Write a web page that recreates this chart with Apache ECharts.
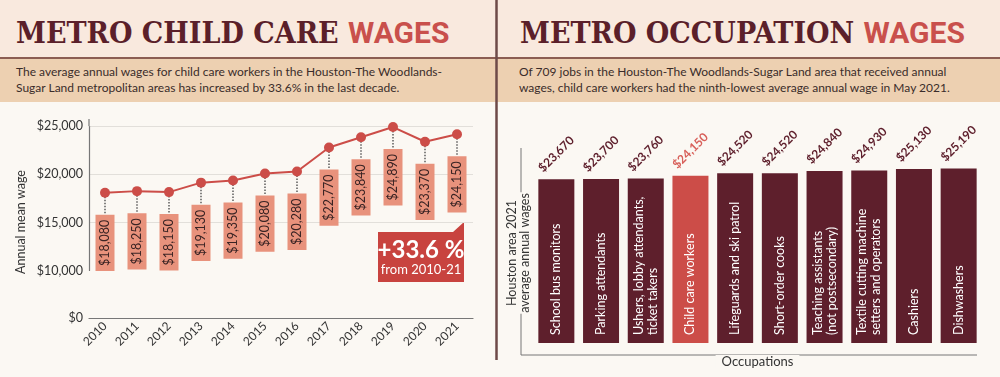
<!DOCTYPE html>
<html>
<head>
<meta charset="utf-8">
<script src="https://cdn.jsdelivr.net/npm/echarts@6/dist/echarts.min.js"></script>
<style>
  body { margin: 0; width: 1000px; height: 377px; background: #fbf8f3; position: relative; overflow: hidden; }
  .top { position: absolute; left: 0; top: 0; width: 1000px; height: 57px; background: #f9e9de; border-bottom: 2px solid #8c5d52; }
  .band { position: absolute; left: 0; top: 59px; width: 1000px; height: 43px; background: #edd0b1; }
  .title { position: absolute; top: 15px; font-size: 30px; line-height: 36px; white-space: nowrap; }
  .title .a { font-family: 'DejaVu Serif', serif; font-weight: bold; color: #5b1f2a; font-stretch: condensed; }
  .title .b { font-family: Roboto, sans-serif; font-weight: bold; color: #c9504c; }
  .sub { position: absolute; top: 64px; font-family: Lato, sans-serif; font-size: 12px; line-height: 16px; color: #3a2c2a; white-space: nowrap; }
  #chart { position: absolute; left: 0; top: 0; width: 1000px; height: 377px; }
</style>
</head>
<body>
<div class="top"></div>
<div class="band"></div>
<div class="title" style="left:16px"><span class="a">METRO CHILD CARE </span><span class="b">WAGES</span></div>
<div class="title" style="left:520px"><span class="a">METRO OCCUPATION </span><span class="b">WAGES</span></div>
<div class="sub" style="left:16px">The average annual wages for child care workers in the Houston-The Woodlands-<br>Sugar Land metropolitan areas has increased by 33.6% in the last decade.</div>
<div class="sub" style="left:519px">Of 709 jobs in the Houston-The Woodlands-Sugar Land area that received annual<br>wages, child care workers had the ninth-lowest average annual wage in May 2021.</div>
<div id="chart"></div>
<script>
// wage history, left chart
var years = ['2010', '2011', '2012', '2013', '2014', '2015', '2016', '2017', '2018', '2019', '2020', '2021']
var meanWage = [18080, 18250, 18150, 19130, 19350, 20080, 20280, 22770, 23840, 24890, 23370, 24150]

// lowest paid occupations, right chart
var jobs = [
  'School bus monitors',
  'Parking attendants',
  'Ushers, lobby attendants,\nticket takers',
  'Child care workers',
  'Lifeguards and ski patrol',
  'Short-order cooks',
  'Teaching assistants\n(not postsecondary)',
  'Textile cutting machine\nsetters and operators',
  'Cashiers',
  'Dishwashers'
]
var jobWage = [23670, 23700, 23760, 24150, 24520, 24520, 24840, 24930, 25130, 25190]
var highlightJob = 'Child care workers'

var FONT = 'Lato, sans-serif'
var MAROON = '#5e1f2c'
var RED = '#cc4d48'

var chartDom = document.getElementById('chart')
var myChart = echarts.init(chartDom, null, { renderer: 'canvas' })

function money(v) {
  return '$' + v.toLocaleString('en-US')
}

var option = {
  animation: false,
  textStyle: { fontFamily: FONT },
  grid: [
    { left: 89, right: 527, top: 126, bottom: 59 },
    { left: 534, right: 19, top: 163, bottom: 34 }
  ],
  xAxis: [
    {
      gridIndex: 0,
      type: 'category',
      data: years,
      axisLine: { lineStyle: { color: '#777', width: 1.2 } },
      axisTick: { show: false },
      axisLabel: { rotate: 45, fontSize: 12, color: '#333', margin: 6, fontFamily: FONT }
    },
    {
      gridIndex: 1,
      type: 'category',
      data: jobs,
      z: 5,
      axisLine: { show: false },
      axisTick: { show: false },
      axisLabel: { show: false },
      name: 'Occupations',
      nameLocation: 'middle',
      nameGap: 12,
      nameTextStyle: { fontSize: 13, color: '#333', fontFamily: FONT, backgroundColor: '#fbf8f3', padding: [0, 6] }
    }
  ],
  yAxis: [
    {
      gridIndex: 0,
      type: 'value',
      min: 0,
      max: 25000,
      interval: 5000,
      // $0 to $10,000 is squeezed on the original chart
      breaks: [{ start: 0, end: 10000, gap: 4900 }],
      breakArea: { show: false },
      name: 'Annual mean wage',
      nameLocation: 'middle',
      nameGap: 62,
      nameTextStyle: { fontSize: 12.5, color: '#333', fontFamily: FONT },
      axisLine: { show: true, lineStyle: { color: '#777', width: 1.2 } },
      axisTick: { show: false },
      splitLine: { lineStyle: { color: '#e2dfda' } },
      axisLabel: {
        fontSize: 12.5,
        color: '#333',
        margin: 6,
        formatter: function (v) {
          return v % 5000 === 0 ? money(v) : ''
        }
      }
    },
    {
      gridIndex: 1,
      type: 'value',
      min: 0,
      max: 26000,
      z: 5,
      axisLine: { show: false },
      axisTick: { show: false },
      axisLabel: { show: false },
      splitLine: { show: false },
      name: 'Houston area 2021\naverage annual wages',
      nameLocation: 'middle',
      nameGap: -2,
      nameTextStyle: { fontSize: 12.5, lineHeight: 13, color: '#333', fontFamily: FONT, backgroundColor: '#fbf8f3', padding: [5, 1] }
    }
  ],
  series: [
    {
      // dotted leaders from each point down to its value box
      type: 'custom',
      xAxisIndex: 0,
      yAxisIndex: 0,
      silent: true,
      z: 1,
      data: meanWage.map(function (v, i) { return [i, v] }),
      renderItem: function (params, api) {
        var p = api.coord([api.value(0), api.value(1)])
        return {
          type: 'line',
          shape: { x1: p[0], y1: p[1] + 4, x2: p[0], y2: p[1] + 22 },
          style: { stroke: '#444', lineWidth: 1.3, lineDash: [1.5, 1.5] }
        }
      }
    },
    {
      type: 'line',
      xAxisIndex: 0,
      yAxisIndex: 0,
      data: meanWage,
      z: 3,
      symbol: 'circle',
      symbolSize: 10,
      lineStyle: { color: RED, width: 2 },
      itemStyle: { color: RED },
      label: {
        show: true,
        position: 'bottom',
        distance: 17,
        rotate: 90,
        align: 'right',
        verticalAlign: 'middle',
        formatter: function (p) { return money(p.value) },
        fontSize: 12.5,
        lineHeight: 14,
        color: '#3a2424',
        backgroundColor: '#e8927c',
        padding: [3, 5, 2, 5],
        fontFamily: FONT
      }
    },
    {
      type: 'bar',
      xAxisIndex: 1,
      yAxisIndex: 1,
      barWidth: 36,
      data: jobWage.map(function (v, i) {
        return { value: v, itemStyle: { color: jobs[i] === highlightJob ? RED : MAROON } }
      }),
      label: {
        show: true,
        position: 'insideBottom',
        distance: 8,
        rotate: 90,
        align: 'left',
        verticalAlign: 'middle',
        formatter: '{b}',
        color: '#fff',
        fontSize: 12.5,
        lineHeight: 14,
        fontFamily: FONT
      }
    },
    {
      // value labels above the bars
      type: 'bar',
      xAxisIndex: 1,
      yAxisIndex: 1,
      barWidth: 36,
      barGap: '-100%',
      silent: true,
      itemStyle: { color: 'rgba(0,0,0,0)' },
      data: jobWage.map(function (v, i) {
        return { value: v, label: { color: jobs[i] === highlightJob ? '#d8605a' : MAROON } }
      }),
      label: {
        show: true,
        position: 'top',
        distance: 25,
        rotate: 45,
        align: 'center',
        verticalAlign: 'middle',
        formatter: function (p) { return money(p.value) },
        fontSize: 12,
        fontWeight: 'bold',
        fontFamily: FONT
      }
    }
  ],
  graphic: [
    // panel divider
    { type: 'line', shape: { x1: 496.5, y1: 0, x2: 496.5, y2: 360 }, style: { stroke: '#6e4a48', lineWidth: 2.5 }, z: 10 },
    // left axis runs a little past $25,000
    { type: 'line', shape: { x1: 89, y1: 119, x2: 89, y2: 126 }, style: { stroke: '#777', lineWidth: 1.2 }, z: 0 },
    // L-shaped frame of the right chart
    { type: 'line', shape: { x1: 521, y1: 148, x2: 521, y2: 355 }, style: { stroke: '#777', lineWidth: 1 }, z: 0 },
    { type: 'line', shape: { x1: 521, y1: 355, x2: 977, y2: 355 }, style: { stroke: '#777', lineWidth: 1 }, z: 0 },
    // +33.6 % callout
    {
      type: 'group',
      z: 10,
      children: [
        { type: 'polygon', shape: { points: [[378, 232], [453, 232], [464, 222], [464, 282], [378, 282]] }, style: { fill: '#c8433f' } },
        { type: 'text', x: 421, y: 250, style: { text: '+33.6 %', fill: '#fff', font: 'bold 24px ' + FONT, align: 'center', verticalAlign: 'middle' } },
        { type: 'text', x: 421, y: 270, style: { text: 'from 2010-21', fill: '#fff', font: '13px ' + FONT, align: 'center', verticalAlign: 'middle' } }
      ]
    }
  ]
}

option && myChart.setOption(option)
</script>
</body>
</html>
